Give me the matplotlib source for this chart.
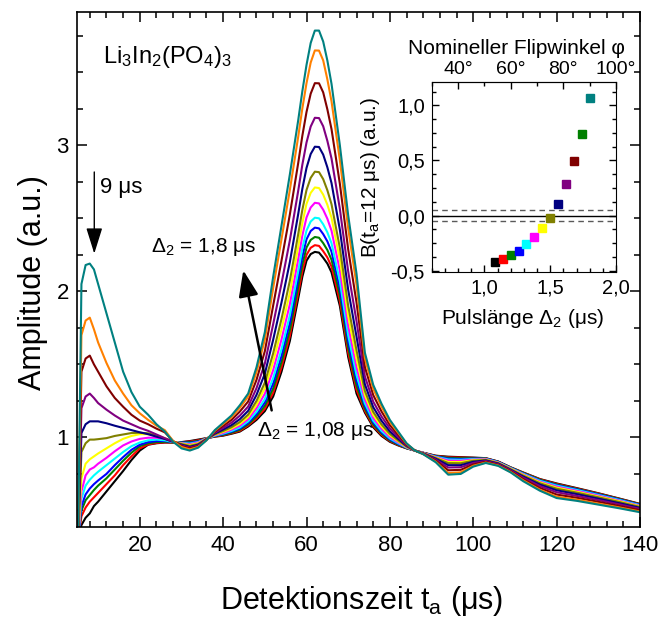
import matplotlib.pyplot as plt
from matplotlib.ticker import MultipleLocator

plt.rcParams['font.family'] = ['Liberation Sans', 'DejaVu Sans']
plt.rcParams['mathtext.fontset'] = 'custom'
plt.rcParams['mathtext.rm'] = 'Liberation Sans'
plt.rcParams['mathtext.it'] = 'Liberation Sans:italic'
plt.rcParams['mathtext.default'] = 'regular'

# detection time grid (us)
t_us = [5.2, 6, 7, 8, 9, 10, 12, 14, 16, 18, 20, 22, 24, 26, 28, 30, 32, 34,
        36, 38, 40, 42, 44, 46, 48, 50, 52, 54, 56, 58, 59, 60, 61, 62, 63, 64, 65, 66,
        68, 70, 72, 74, 76, 78, 80, 82, 84, 86,
        88, 91, 94, 97, 100, 103, 106, 109, 112, 116, 120, 125, 130, 135, 140]

amp_108 = [0.30, 0.40, 0.45, 0.48, 0.53, 0.56, 0.63, 0.70, 0.77, 0.845, 0.91, 0.95, 0.96, 0.965, 0.965, 0.968, 0.975, 0.985,
           0.995, 1.005, 1.012, 1.025, 1.04, 1.075, 1.12, 1.18, 1.28, 1.45, 1.66, 1.95, 2.10, 2.21, 2.255, 2.27, 2.265, 2.23, 2.19, 2.13,
           1.90, 1.55, 1.30, 1.17, 1.07, 1.01, 0.97, 0.945, 0.925, 0.91,
           0.895, 0.875, 0.868, 0.865, 0.862, 0.858, 0.835, 0.795, 0.76, 0.715, 0.685, 0.652, 0.618, 0.582, 0.545]
amp_114 = [0.30, 0.46, 0.52, 0.56, 0.59, 0.62, 0.68, 0.74, 0.81, 0.87, 0.925, 0.952, 0.962, 0.966, 0.965, 0.967, 0.972, 0.98,
           0.995, 1.006, 1.015, 1.029, 1.045, 1.082, 1.131, 1.196, 1.305, 1.48, 1.694, 1.987, 2.138, 2.25, 2.298, 2.316, 2.311, 2.275, 2.232, 2.169,
           1.933, 1.579, 1.325, 1.182, 1.079, 1.017, 0.975, 0.948, 0.926, 0.91,
           0.895, 0.874, 0.864, 0.862, 0.860, 0.857, 0.834, 0.794, 0.758, 0.713, 0.682, 0.649, 0.616, 0.580, 0.543]
amp_120 = [0.30, 0.50, 0.57, 0.605, 0.64, 0.67, 0.72, 0.78, 0.84, 0.895, 0.94, 0.96, 0.968, 0.97, 0.966, 0.966, 0.968, 0.975,
           0.994, 1.008, 1.018, 1.033, 1.052, 1.090, 1.144, 1.216, 1.335, 1.517, 1.736, 2.032, 2.185, 2.30, 2.352, 2.372, 2.367, 2.33, 2.283, 2.216,
           1.974, 1.615, 1.355, 1.197, 1.089, 1.025, 0.98, 0.951, 0.927, 0.91,
           0.894, 0.872, 0.860, 0.857, 0.858, 0.856, 0.833, 0.793, 0.756, 0.710, 0.678, 0.646, 0.613, 0.578, 0.541]
amp_126 = [0.30, 0.53, 0.61, 0.65, 0.68, 0.705, 0.75, 0.81, 0.865, 0.915, 0.95, 0.968, 0.975, 0.975, 0.968, 0.965, 0.963, 0.972,
           0.993, 1.010, 1.022, 1.039, 1.060, 1.100, 1.159, 1.239, 1.369, 1.559, 1.784, 2.083, 2.238, 2.356, 2.413, 2.436, 2.431, 2.392, 2.342, 2.271,
           2.02, 1.656, 1.389, 1.215, 1.102, 1.034, 0.986, 0.955, 0.929, 0.91,
           0.894, 0.870, 0.855, 0.852, 0.855, 0.854, 0.832, 0.791, 0.753, 0.706, 0.674, 0.643, 0.610, 0.575, 0.539]
amp_132 = [0.30, 0.58, 0.67, 0.71, 0.74, 0.765, 0.81, 0.855, 0.90, 0.94, 0.965, 0.98, 0.985, 0.98, 0.968, 0.962, 0.958, 0.968,
           0.993, 1.012, 1.026, 1.044, 1.068, 1.110, 1.175, 1.263, 1.406, 1.604, 1.836, 2.138, 2.296, 2.416, 2.478, 2.504, 2.50, 2.459, 2.404, 2.329,
           2.069, 1.699, 1.426, 1.233, 1.115, 1.044, 0.993, 0.96, 0.93, 0.91,
           0.893, 0.868, 0.849, 0.847, 0.852, 0.853, 0.830, 0.790, 0.751, 0.703, 0.670, 0.639, 0.606, 0.572, 0.536]
amp_138 = [0.30, 0.63, 0.74, 0.78, 0.795, 0.82, 0.86, 0.905, 0.945, 0.972, 0.99, 0.998, 0.998, 0.99, 0.97, 0.96, 0.953, 0.965,
           0.992, 1.015, 1.031, 1.053, 1.080, 1.125, 1.200, 1.299, 1.461, 1.671, 1.912, 2.22, 2.381, 2.506, 2.574, 2.606, 2.602, 2.559, 2.497, 2.415,
           2.143, 1.764, 1.481, 1.261, 1.134, 1.059, 1.003, 0.966, 0.933, 0.91,
           0.893, 0.865, 0.841, 0.840, 0.848, 0.851, 0.828, 0.787, 0.747, 0.697, 0.663, 0.633, 0.601, 0.567, 0.532]
amp_144 = [0.30, 0.72, 0.82, 0.85, 0.87, 0.89, 0.925, 0.96, 0.99, 1.01, 1.022, 1.022, 1.012, 0.995, 0.972, 0.958, 0.948, 0.96,
           0.991, 1.018, 1.038, 1.061, 1.092, 1.140, 1.224, 1.337, 1.518, 1.74, 1.991, 2.304, 2.468, 2.599, 2.674, 2.711, 2.707, 2.662, 2.593, 2.504,
           2.219, 1.831, 1.538, 1.289, 1.154, 1.074, 1.014, 0.973, 0.935, 0.91,
           0.892, 0.862, 0.832, 0.832, 0.844, 0.848, 0.826, 0.785, 0.743, 0.692, 0.656, 0.627, 0.595, 0.563, 0.528]
amp_150 = [0.30, 0.90, 0.96, 0.985, 0.985, 0.988, 0.995, 1.01, 1.02, 1.03, 1.032, 1.028, 1.012, 0.99, 0.97, 0.955, 0.942, 0.955,
           0.990, 1.021, 1.044, 1.070, 1.105, 1.156, 1.250, 1.375, 1.576, 1.811, 2.072, 2.39, 2.558, 2.694, 2.777, 2.819, 2.816, 2.768, 2.692, 2.596,
           2.297, 1.90, 1.596, 1.318, 1.175, 1.089, 1.024, 0.979, 0.938, 0.91,
           0.891, 0.859, 0.824, 0.823, 0.840, 0.846, 0.824, 0.782, 0.738, 0.686, 0.649, 0.621, 0.590, 0.558, 0.524]
amp_156 = [0.30, 1.03, 1.09, 1.11, 1.11, 1.11, 1.097, 1.08, 1.065, 1.05, 1.035, 1.022, 1.005, 0.99, 0.97, 0.95, 0.935, 0.95,
           0.988, 1.026, 1.054, 1.084, 1.125, 1.182, 1.291, 1.436, 1.669, 1.924, 2.20, 2.528, 2.702, 2.845, 2.94, 2.99, 2.988, 2.936, 2.849, 2.741,
           2.421, 2.01, 1.689, 1.364, 1.207, 1.114, 1.041, 0.99, 0.942, 0.91,
           0.890, 0.854, 0.810, 0.810, 0.833, 0.842, 0.821, 0.778, 0.732, 0.677, 0.638, 0.611, 0.581, 0.550, 0.518]
amp_162 = [0.30, 1.20, 1.28, 1.30, 1.27, 1.235, 1.19, 1.15, 1.115, 1.09, 1.065, 1.045, 1.02, 0.995, 0.972, 0.945, 0.93, 0.945,
           0.986, 1.032, 1.065, 1.101, 1.149, 1.211, 1.337, 1.506, 1.775, 2.054, 2.349, 2.687, 2.867, 3.019, 3.128, 3.188, 3.186, 3.13, 3.03, 2.909,
           2.564, 2.136, 1.795, 1.418, 1.245, 1.143, 1.061, 1.002, 0.946, 0.91,
           0.889, 0.848, 0.794, 0.796, 0.825, 0.838, 0.817, 0.774, 0.724, 0.667, 0.625, 0.599, 0.571, 0.542, 0.511]
amp_168 = [0.30, 1.45, 1.54, 1.56, 1.50, 1.45, 1.35, 1.27, 1.21, 1.155, 1.115, 1.09, 1.06, 1.035, 0.975, 0.94, 0.925, 0.94,
           0.984, 1.039, 1.079, 1.120, 1.177, 1.246, 1.394, 1.590, 1.903, 2.21, 2.526, 2.877, 3.065, 3.228, 3.353, 3.425, 3.424, 3.362, 3.246, 3.11,
           2.736, 2.287, 1.923, 1.482, 1.29, 1.177, 1.084, 1.017, 0.952, 0.91,
           0.887, 0.841, 0.775, 0.778, 0.815, 0.833, 0.812, 0.768, 0.714, 0.654, 0.609, 0.586, 0.559, 0.531, 0.502]
amp_174 = [0.30, 1.70, 1.80, 1.82, 1.74, 1.65, 1.51, 1.39, 1.30, 1.22, 1.165, 1.12, 1.08, 1.05, 0.975, 0.935, 0.918, 0.935,
           0.981, 1.046, 1.092, 1.138, 1.203, 1.279, 1.447, 1.670, 2.024, 2.357, 2.694, 3.057, 3.252, 3.425, 3.566, 3.649, 3.648, 3.581, 3.451, 3.30,
           2.898, 2.43, 2.044, 1.542, 1.333, 1.21, 1.106, 1.031, 0.957, 0.91,
           0.886, 0.834, 0.756, 0.761, 0.806, 0.828, 0.808, 0.763, 0.706, 0.642, 0.594, 0.573, 0.547, 0.521, 0.493]
amp_180 = [0.30, 2.05, 2.18, 2.19, 2.15, 2.05, 1.85, 1.65, 1.45, 1.31, 1.21, 1.155, 1.09, 1.04, 0.97, 0.925, 0.91, 0.93,
           0.98, 1.05, 1.10, 1.15, 1.22, 1.30, 1.48, 1.72, 2.10, 2.45, 2.80, 3.17, 3.37, 3.55, 3.70, 3.785, 3.785, 3.71, 3.58, 3.42,
           3.00, 2.52, 2.12, 1.58, 1.36, 1.23, 1.12, 1.04, 0.96, 0.91,
           0.885, 0.83, 0.745, 0.75, 0.80, 0.825, 0.805, 0.76, 0.70, 0.635, 0.585, 0.565, 0.54, 0.515, 0.488]

curve_colors = ['#000000', '#ff0000', '#008000', '#0000ff', '#00ffff', '#ff00ff', '#ffff00',
                '#808000', '#000080', '#800080', '#800000', '#ff8000', '#008080']

# inset: echo amplitude at t_a = 12 us vs pulse length
pulse_us = [1.08, 1.14, 1.20, 1.26, 1.32, 1.38, 1.44, 1.50, 1.56, 1.62, 1.68, 1.74, 1.80]
b_12us = [-0.426, -0.392, -0.359, -0.32, -0.263, -0.196, -0.114, -0.024, 0.109, 0.284, 0.498, 0.74, 1.07]
inset_colors = ['#000000', '#ff0000', '#008000', '#0000ff', '#00ffff', '#ff00ff', '#ffff00',
                '#808000', '#000080', '#800080', '#800000', '#008000', '#008080']

fig = plt.figure(figsize=(6.69, 6.19), dpi=100)
ax = fig.add_axes([0.1155, 0.1494, 0.8411, 0.8307])

curves = [amp_108, amp_114, amp_120, amp_126, amp_132, amp_138, amp_144,
          amp_150, amp_156, amp_162, amp_168, amp_174, amp_180]
for amp, col in zip(curves, curve_colors):
    ax.plot(t_us, amp, color=col, lw=1.5)

ax.set_xlim(5, 140)
ax.set_ylim(0.39, 3.91)
ax.xaxis.set_major_locator(MultipleLocator(20))
ax.xaxis.set_minor_locator(MultipleLocator(4))
ax.set_yticks([1, 2, 3])
ax.yaxis.set_minor_locator(MultipleLocator(0.25))
ax.tick_params(which='both', direction='in', top=True, right=True, width=1.1, labelsize=16, pad=6)
ax.tick_params(which='major', length=7)
ax.tick_params(which='minor', length=4)
for s in ax.spines.values():
    s.set_linewidth(1.2)

ax.set_xlabel('Detektionszeit t$_a$ (μs)', fontsize=22)
ax.xaxis.set_label_coords(0.506, -0.112)
ax.set_ylabel('Amplitude (a.u.)', fontsize=22)
ax.yaxis.set_label_coords(-0.052, 0.4735)

ax.text(11.2, 3.56, 'Li$_3$In$_2$(PO$_4$)$_3$', fontsize=17, va='baseline')

# 9 us marker
ax.annotate('', xy=(9.08, 2.258), xytext=(9.08, 2.817),
            arrowprops=dict(arrowstyle='-|>,head_length=0.8,head_width=0.25', color='black',
                            lw=1, mutation_scale=20, shrinkA=0, shrinkB=0))
ax.text(10.4, 2.67, '9 μs', fontsize=16, va='baseline')

# pulse length arrow
ax.annotate('', xy=(44.83, 2.144), xytext=(51.64, 1.185),
            arrowprops=dict(arrowstyle='-|>,head_length=0.8,head_width=0.3', color='black',
                            lw=1.8, mutation_scale=20, shrinkA=0, shrinkB=0))
ax.text(22.7, 2.27, 'Δ$_2$ = 1,8 μs', fontsize=15, va='baseline')
ax.text(48.1, 1.007, 'Δ$_2$ = 1,08 μs', fontsize=15, va='baseline')

# inset
axin = fig.add_axes([0.6453, 0.5611, 0.2755, 0.3060])
axin.axhline(0, color='black', lw=1)
axin.axhline(0.05, color='0.35', lw=1, ls=(0, (4, 3)))
axin.axhline(-0.05, color='0.35', lw=1, ls=(0, (4, 3)))
for p, b, col in zip(pulse_us, b_12us, inset_colors):
    axin.plot(p, b, marker='s', ms=5.2, color=col, mec=col, ls='none', zorder=3)

axin.set_xlim(0.6, 2.0)
axin.set_ylim(-0.51, 1.21)
axin.set_xticks([1.0, 1.5, 2.0], ['1,0', '1,5', '2,0'])
axin.xaxis.set_minor_locator(MultipleLocator(0.1))
axin.set_yticks([-0.5, 0.0, 0.5, 1.0], ['-0,5', '0,0', '0,5', '1,0'])
axin.yaxis.set_minor_locator(MultipleLocator(0.125))
axin.tick_params(which='both', direction='in', right=True, width=1, labelsize=14.5, pad=5)
axin.tick_params(which='major', length=5)
axin.tick_params(which='minor', length=3)

top = axin.secondary_xaxis('top', functions=(lambda d: d * 50, lambda f: f / 50))
top.set_xticks([40, 60, 80, 100], ['40°', '60°', '80°', '100°'])
top.xaxis.set_minor_locator(MultipleLocator(10))
top.tick_params(which='both', direction='in', width=1, labelsize=14, pad=3)
top.tick_params(which='major', length=5)
top.tick_params(which='minor', length=3)

axin.set_xlabel('Pulslänge Δ$_2$ (μs)', fontsize=15)
axin.xaxis.set_label_coords(0.495, -0.186)
axin.set_ylabel('B(t$_a$=12 μs) (a.u.)', fontsize=15)
axin.yaxis.set_label_coords(-0.27, 0.5)
axin.text(0.458, 1.149, 'Nomineller Flipwinkel φ', transform=axin.transAxes,
          ha='center', va='baseline', fontsize=15)

fig.savefig('out.png', dpi=100)
